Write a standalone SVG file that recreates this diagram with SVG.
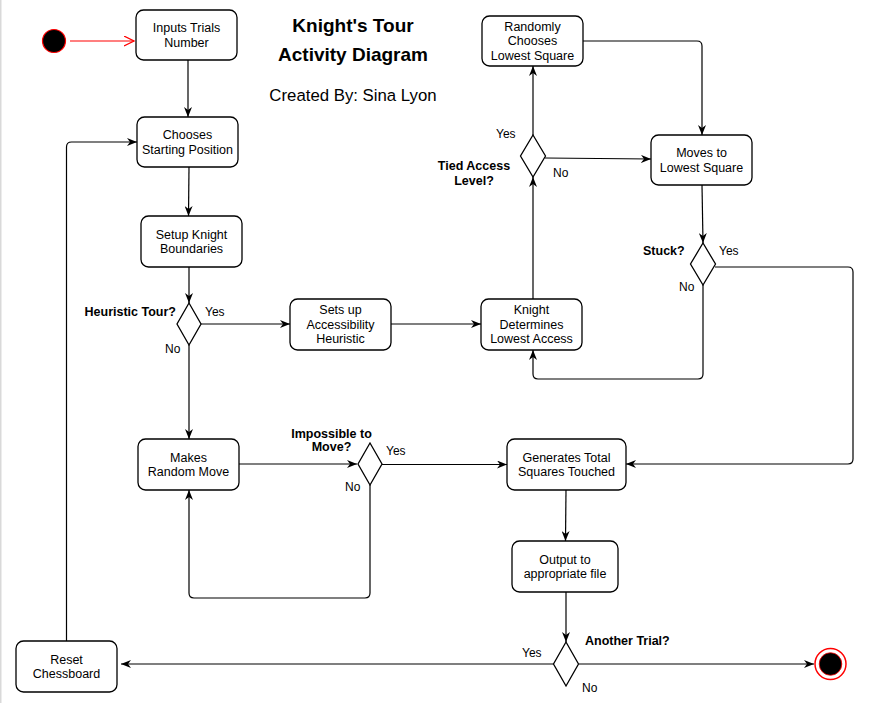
<svg xmlns="http://www.w3.org/2000/svg" width="871" height="703" viewBox="0 0 871 703">
<defs>
<style>
.node rect{fill:#fff;stroke:#000;stroke-width:1.3}
.node text,.lbl{font-family:"Liberation Sans",Arial,sans-serif;font-size:12.5px;fill:#000;text-anchor:middle}
.dec polygon{fill:#fff;stroke:#000;stroke-width:1.3}
.q{font-family:"Liberation Sans",Arial,sans-serif;font-size:12.5px;font-weight:bold;fill:#000}
.yn{font-family:"Liberation Sans",Arial,sans-serif;font-size:12px;fill:#000}
#connectors path{fill:none;stroke:#000;stroke-width:1.2;marker-end:url(#arr)}
#connectors path.red{stroke:#ff0000;marker-end:url(#open)}
</style>
<marker id="arr" viewBox="0 0 10 8" refX="10" refY="4" markerWidth="10" markerHeight="8" markerUnits="userSpaceOnUse" orient="auto">
<path d="M0,0 L10,4 L0,8 L3,4 z" fill="#000"/>
</marker>
<marker id="open" viewBox="0 0 11 11" refX="10" refY="5.5" markerWidth="11" markerHeight="11" markerUnits="userSpaceOnUse" orient="auto">
<path d="M0,0.5 L10,5.5 L0,10.5" fill="none" stroke="#ff0000" stroke-width="1.2"/>
</marker>
</defs>
<rect x="0" y="0" width="871" height="703" fill="#fff"/>
<rect x="0" y="0" width="1.5" height="703" fill="#d9d9d9"/>

<g id="title">
<text x="353" y="32" style="font-family:'Liberation Sans',Arial,sans-serif;font-size:19px;font-weight:bold" text-anchor="middle">Knight's Tour</text>
<text x="353" y="61" style="font-family:'Liberation Sans',Arial,sans-serif;font-size:19px;font-weight:bold" text-anchor="middle">Activity Diagram</text>
<text x="353" y="101" style="font-family:'Liberation Sans',Arial,sans-serif;font-size:16.8px" text-anchor="middle">Created By: Sina Lyon</text>
</g>

<g id="connectors">
<path class="red" d="M70,41 L134,41"/>
<path d="M188,60 L188,117"/>
<path d="M189,167 L188.5,216"/>
<path d="M189,267 L189,303"/>
<path d="M201,324 L290,324"/>
<path d="M189,345 L189,439"/>
<path d="M391,324 L481,324"/>
<path d="M533,299 L533,177"/>
<path d="M533,135 L533,66"/>
<path d="M583,41 L697,41 Q702,41 702,46 L702,135"/>
<path d="M545,158 L651,159"/>
<path d="M702,185 L703,243"/>
<path d="M703,285 L703,374 Q703,379 698,379 L538,379 Q533,379 533,374 L533,350"/>
<path d="M715,267 L848,267 Q853,267 853,272 L853,459 Q853,464 848,464 L626,464"/>
<path d="M239,464 L357,464"/>
<path d="M382,464.5 L507,464.5"/>
<path d="M370,485 L370,593 Q370,598 365,598 L194,598 Q189,598 189,593 L189,490"/>
<path d="M566,490 L565.5,541"/>
<path d="M566,592 L566,642"/>
<path d="M554,664 L121,664"/>
<path d="M579,664 L814,664"/>
<path d="M66.5,641 L66.5,147 Q66.5,142 71.5,142 L137,142"/>
</g>

<g id="start"><circle cx="54" cy="41" r="11.5" fill="#000" stroke="#ff0000" stroke-width="1.2"/></g>
<g id="end">
<circle cx="830.5" cy="664" r="15.5" fill="#fff" stroke="#ff0000" stroke-width="1.5"/>
<circle cx="830.5" cy="664" r="11.3" fill="#000" stroke="#ff0000" stroke-width="0.8"/>
</g>

<g id="inputs" class="node"><rect x="136" y="10" width="101" height="50" rx="7.5"/>
<text x="186.5" y="32">Inputs Trials</text><text x="186.5" y="46.5">Number</text></g>
<g id="chooses" class="node"><rect x="137" y="117" width="101" height="50" rx="7.5"/>
<text x="187.5" y="139">Chooses</text><text x="187.5" y="153.5">Starting Position</text></g>
<g id="setup" class="node"><rect x="141" y="216" width="101" height="51" rx="7.5"/>
<text x="191.5" y="238.5">Setup Knight</text><text x="191.5" y="253">Boundaries</text></g>
<g id="setsup" class="node"><rect x="290" y="299" width="101" height="51" rx="7.5"/>
<text x="340.5" y="314">Sets up</text><text x="340.5" y="328.5">Accessibility</text><text x="340.5" y="343">Heuristic</text></g>
<g id="knight" class="node"><rect x="481" y="299" width="101" height="51" rx="7.5"/>
<text x="531.5" y="314">Knight</text><text x="531.5" y="328.5">Determines</text><text x="531.5" y="343">Lowest Access</text></g>
<g id="randomly" class="node"><rect x="482" y="16" width="101" height="50" rx="7.5"/>
<text x="532.5" y="30.5">Randomly</text><text x="532.5" y="45">Chooses</text><text x="532.5" y="59.5">Lowest Square</text></g>
<g id="moves" class="node"><rect x="651" y="135" width="101" height="50" rx="7.5"/>
<text x="701.5" y="157">Moves to</text><text x="701.5" y="171.5">Lowest Square</text></g>
<g id="generates" class="node"><rect x="507" y="439" width="119" height="51" rx="7.5"/>
<text x="566.5" y="461.5">Generates Total</text><text x="566.5" y="476">Squares Touched</text></g>
<g id="output" class="node"><rect x="512" y="541" width="106" height="51" rx="7.5"/>
<text x="565" y="563.5">Output to</text><text x="565" y="578">appropriate file</text></g>
<g id="makes" class="node"><rect x="138" y="439" width="101" height="51" rx="7.5"/>
<text x="188.5" y="461.5">Makes</text><text x="188.5" y="476">Random Move</text></g>
<g id="reset" class="node"><rect x="16" y="641" width="101" height="51" rx="7.5"/>
<text x="66.5" y="663.5">Reset</text><text x="66.5" y="678">Chessboard</text></g>

<g id="heuristic" class="dec"><polygon points="189,303 201,324 189,345 177,324"/>
<text class="q" x="176" y="316" text-anchor="end">Heuristic Tour?</text>
<text class="yn" x="205" y="316">Yes</text><text class="yn" x="165" y="353">No</text></g>
<g id="tied" class="dec"><polygon points="533,135 545.5,156 533,177 520.5,156"/>
<text class="q" x="474" y="170" text-anchor="middle">Tied Access</text>
<text class="q" x="474" y="185" text-anchor="middle">Level?</text>
<text class="yn" x="496" y="138">Yes</text><text class="yn" x="553" y="177">No</text></g>
<g id="stuck" class="dec"><polygon points="703,243 715.5,264 703,285 690.5,264"/>
<text class="q" x="643" y="255">Stuck?</text>
<text class="yn" x="719" y="255">Yes</text><text class="yn" x="679" y="291">No</text></g>
<g id="impossible" class="dec"><polygon points="370,443 382,464 370,485 358,464"/>
<text class="q" x="331.5" y="437.5" text-anchor="middle">Impossible to</text>
<text class="q" x="331.5" y="451" text-anchor="middle">Move?</text>
<text class="yn" x="386" y="455">Yes</text><text class="yn" x="345" y="491">No</text></g>
<g id="another" class="dec"><polygon points="566,642 578.5,664 566,686 553.5,664"/>
<text class="q" x="585" y="645">Another Trial?</text>
<text class="yn" x="522" y="657">Yes</text><text class="yn" x="582" y="692">No</text></g>
</svg>
